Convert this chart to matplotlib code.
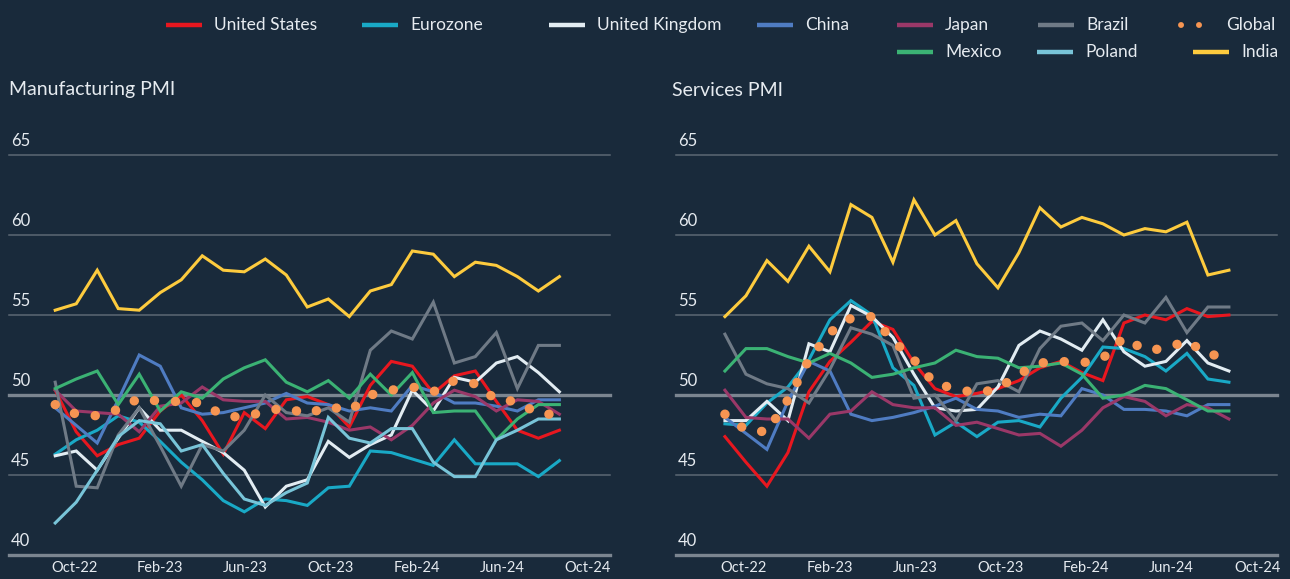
import matplotlib
matplotlib.use("Agg")
import matplotlib.pyplot as plt
from matplotlib.lines import Line2D
from matplotlib.transforms import blended_transform_factory

plt.rcParams['font.family'] = ['Lato', 'DejaVu Sans']

months = ['Oct-22', 'Nov-22', 'Dec-22', 'Jan-23', 'Feb-23', 'Mar-23', 'Apr-23', 'May-23', 'Jun-23',
          'Jul-23', 'Aug-23', 'Sep-23', 'Oct-23', 'Nov-23', 'Dec-23', 'Jan-24', 'Feb-24', 'Mar-24',
          'Apr-24', 'May-24', 'Jun-24', 'Jul-24', 'Aug-24', 'Sep-24', 'Oct-24']
tick_labels = ['Oct-22', 'Feb-23', 'Jun-23', 'Oct-23', 'Feb-24', 'Jun-24', 'Oct-24']
y_levels = [40, 45, 50, 55, 60, 65]

# Manufacturing PMI
mfg_us = [50.3, 47.7, 46.2, 46.9, 47.3, 49.0, 50.0, 48.4, 46.3, 48.9, 47.9, 49.7, 49.9, 49.4, 48.0,
          50.6, 52.1, 51.8, 50.1, 51.2, 51.5, 49.6, 47.8, 47.3, 47.8]
mfg_ez = [46.3, 47.2, 47.8, 48.7, 48.3, 47.1, 45.8, 44.7, 43.4, 42.7, 43.5, 43.4, 43.1, 44.2, 44.3,
          46.5, 46.4, 46.0, 45.6, 47.2, 45.7, 45.7, 45.7, 44.9, 45.9]
mfg_uk = [46.2, 46.5, 45.3, 47.3, 49.2, 47.8, 47.8, 47.1, 46.4, 45.3, 43.0, 44.3, 44.7, 47.1, 46.1,
          46.9, 47.5, 50.3, 49.0, 51.1, 50.8, 52.0, 52.4, 51.4, 50.2]
mfg_cn = [49.2, 48.1, 47.0, 49.7, 52.5, 51.8, 49.2, 48.8, 48.9, 49.2, 49.5, 50.1, 49.5, 49.4, 49.0,
          49.2, 49.0, 50.6, 50.2, 49.5, 49.5, 49.3, 49.0, 49.7, 49.7]
mfg_jp = [50.3, 49.0, 48.9, 48.8, 47.7, 49.3, 49.5, 50.5, 49.7, 49.6, 49.6, 48.5, 48.6, 48.3, 47.8,
          48.0, 47.2, 48.1, 49.5, 50.3, 49.9, 49.0, 49.7, 49.6, 48.8]
mfg_br = [50.8, 44.3, 44.2, 47.5, 49.2, 46.8, 44.3, 46.9, 46.5, 47.8, 50.0, 48.9, 48.7, 49.2, 48.3,
          52.8, 54.0, 53.5, 55.8, 52.0, 52.4, 53.9, 50.4, 53.1, 53.1]
mfg_mx = [50.4, 51.0, 51.5, 49.4, 51.3, 49.0, 50.2, 49.8, 51.0, 51.7, 52.2, 50.8, 50.2, 50.9, 49.8,
          51.3, 50.0, 51.4, 48.9, 49.0, 49.0, 47.2, 48.5, 49.4, 49.4]
mfg_pl = [42.0, 43.3, 45.3, 47.4, 48.4, 48.2, 46.5, 46.9, 45.1, 43.5, 43.1, 43.9, 44.5, 48.6, 47.3,
          47.0, 47.9, 47.9, 45.8, 44.9, 44.9, 47.2, 47.8, 48.5, 48.5]
mfg_in = [55.3, 55.7, 57.8, 55.4, 55.3, 56.4, 57.2, 58.7, 57.8, 57.7, 58.5, 57.5, 55.5, 56.0, 54.9,
          56.5, 56.9, 59.0, 58.8, 57.4, 58.3, 58.1, 57.4, 56.5, 57.4]
mfg_gl = [49.4, 48.8, 48.7, 49.1, 49.8, 49.6, 49.6, 49.5, 48.7, 48.6, 49.0, 49.2, 48.8, 49.3, 49.0,
          50.0, 50.3, 50.5, 50.2, 50.9, 50.7, 49.7, 49.6, 48.8, 48.8]

# Services PMI (no Poland series)
srv_us = [47.4, 45.8, 44.3, 46.4, 50.2, 52.1, 53.3, 54.6, 54.1, 52.0, 50.4, 49.9, 50.1, 50.4, 50.9,
          51.7, 52.1, 51.4, 50.9, 54.5, 55.0, 54.7, 55.4, 54.9, 55.0]
srv_ez = [48.2, 48.1, 49.5, 50.5, 52.2, 54.7, 55.9, 55.0, 51.7, 50.6, 47.5, 48.3, 47.4, 48.3, 48.4,
          48.0, 49.8, 51.1, 53.0, 52.9, 52.4, 51.5, 52.6, 51.0, 50.8]
srv_uk = [48.4, 48.4, 49.6, 48.4, 53.2, 52.7, 55.6, 54.9, 53.6, 51.3, 49.2, 49.0, 49.1, 50.5, 53.1,
          54.0, 53.5, 52.8, 54.7, 52.7, 51.8, 52.1, 53.4, 52.0, 51.5]
srv_cn = [48.6, 47.6, 46.6, 49.6, 52.1, 51.5, 48.8, 48.4, 48.6, 48.9, 49.3, 49.8, 49.1, 49.0, 48.6,
          48.8, 48.7, 50.4, 50.0, 49.1, 49.1, 49.0, 48.7, 49.4, 49.4]
srv_jp = [50.3, 48.6, 48.5, 48.5, 47.3, 48.8, 49.0, 50.2, 49.4, 49.2, 49.2, 48.1, 48.3, 47.9, 47.5,
          47.6, 46.8, 47.8, 49.2, 49.9, 49.6, 48.7, 49.4, 49.2, 48.5]
srv_br = [53.8, 51.3, 50.7, 50.4, 49.5, 51.6, 54.2, 53.8, 53.1, 49.8, 50.0, 48.4, 50.7, 50.9, 50.2,
          52.9, 54.3, 54.5, 53.4, 55.0, 54.5, 56.1, 53.9, 55.5, 55.5]
srv_mx = [51.5, 52.9, 52.9, 52.4, 52.0, 52.6, 52.0, 51.1, 51.3, 51.7, 52.0, 52.8, 52.4, 52.3, 51.7,
          51.8, 52.0, 51.3, 49.8, 50.0, 50.6, 50.4, 49.7, 49.0, 49.0]
srv_in = [54.9, 56.2, 58.4, 57.1, 59.3, 57.7, 61.9, 61.1, 58.3, 62.2, 60.0, 60.9, 58.2, 56.7, 58.9,
          61.7, 60.5, 61.1, 60.7, 60.0, 60.4, 60.2, 60.8, 57.5, 57.8]
srv_gl = [48.8, 47.8, 47.7, 49.7, 52.2, 53.9, 54.8, 54.9, 53.4, 52.2, 50.7, 50.4, 50.1, 50.4, 51.3,
          52.0, 52.1, 52.0, 52.3, 53.6, 52.8, 52.9, 53.4, 52.5, 52.5]

colors = {
    'United States': '#e8171f',
    'Eurozone': '#19a9c6',
    'United Kingdom': '#e2ecf2',
    'China': '#4f7cc2',
    'Japan': '#9a3868',
    'Brazil': '#6f7a86',
    'Global': '#f69552',
    'Mexico': '#3bb274',
    'Poland': '#78c4d8',
    'India': '#fdcb3e',
}

mfg = {'United States': mfg_us, 'Eurozone': mfg_ez, 'United Kingdom': mfg_uk, 'China': mfg_cn,
       'Japan': mfg_jp, 'Brazil': mfg_br, 'Mexico': mfg_mx, 'Poland': mfg_pl, 'India': mfg_in,
       'Global': mfg_gl}
srv = {'United States': srv_us, 'Eurozone': srv_ez, 'United Kingdom': srv_uk, 'China': srv_cn,
       'Japan': srv_jp, 'Brazil': srv_br, 'Mexico': srv_mx, 'India': srv_in, 'Global': srv_gl}

bg = '#192a3b'
txt = '#e6ebf0'
grid_c = '#5c6874'
mid_c = '#7b8590'

W, H = 1290, 579
fig = plt.figure(figsize=(W / 100, H / 100), dpi=100, facecolor=bg)


def px(x, y):
    return x / W, 1 - y / H


x = list(range(len(months)))
tick_pos = [months.index(t) + 0.9 + 0.075 * k for k, t in enumerate(tick_labels)]


def draw_panel(rect, xlim, series, title, title_x):
    ax = fig.add_axes(rect)
    ax.set_facecolor(bg)
    for s in ax.spines.values():
        s.set_visible(False)
    ax.set_xlim(*xlim)
    ax.set_ylim(40, 65)
    ax.set_yticks([])
    ax.set_xticks(tick_pos)
    ax.set_xticklabels(tick_labels, color=txt, fontsize=10.5)
    ax.tick_params(axis='x', length=0, pad=4)

    for v in y_levels:
        if v in (40, 50):
            ax.axhline(v, color=mid_c, lw=2.4, zorder=1, clip_on=False)
        else:
            ax.axhline(v, color=grid_c, lw=1.1, zorder=1, clip_on=False)
        tr = blended_transform_factory(ax.transAxes, ax.transData)
        ax.annotate(str(v), xy=(0, v), xycoords=tr, xytext=(1.5, 4), textcoords='offset points',
                    ha='left', va='bottom', color=txt, fontsize=12, annotation_clip=False)

    for name, vals in series.items():
        if name == 'Global':
            continue
        ax.plot(x, vals, color=colors[name], lw=2.2, zorder=3, solid_joinstyle='miter')
    # global series drawn as round dots spaced along the path
    ax.plot(x, series['Global'], color=colors['Global'], lw=6.8, linestyle=(0, (0.01, 2.22)),
            dash_capstyle='round', zorder=5)

    tx, ty = px(title_x, 90)
    fig.text(tx, ty, title, color=txt, fontsize=14, va='center', ha='left')
    return ax


draw_panel([9 / W, 1 - 555 / H, 601 / W, 400 / H], (-2.2, 26.41), mfg, 'Manufacturing PMI', 9)
draw_panel([676 / W, 1 - 555 / H, 601 / W, 400 / H], (-2.33, 26.29), srv, 'Services PMI', 672)

# legend, laid out like the original (two rows, loose columns)
legend_items = [('United States', 166, 25), ('Eurozone', 362, 25), ('United Kingdom', 549, 25),
                ('China', 757, 25), ('Japan', 897, 25), ('Brazil', 1038, 25), ('Global', 1178, 25),
                ('Mexico', 897, 52), ('Poland', 1037, 52), ('India', 1193, 52)]
for name, lx, ly in legend_items:
    x0, y0 = px(lx, ly)
    x1, _ = px(lx + 36, ly)
    if name == 'Global':
        ln = Line2D([x0 + 3 / W, x1 - 3 / W], [y0, y0], transform=fig.transFigure, color=colors[name],
                    lw=4.3, linestyle=(0, (0.01, 3.0)), dash_capstyle='round')
    else:
        ln = Line2D([x0, x1], [y0, y0], transform=fig.transFigure, color=colors[name], lw=3.2,
                    solid_capstyle='butt')
    fig.add_artist(ln)
    tx, ty = px(lx + 48, ly)
    fig.text(tx, ty, name, color=txt, fontsize=12.5, va='center', ha='left')

fig.savefig('out.png', dpi=100, facecolor=bg)
